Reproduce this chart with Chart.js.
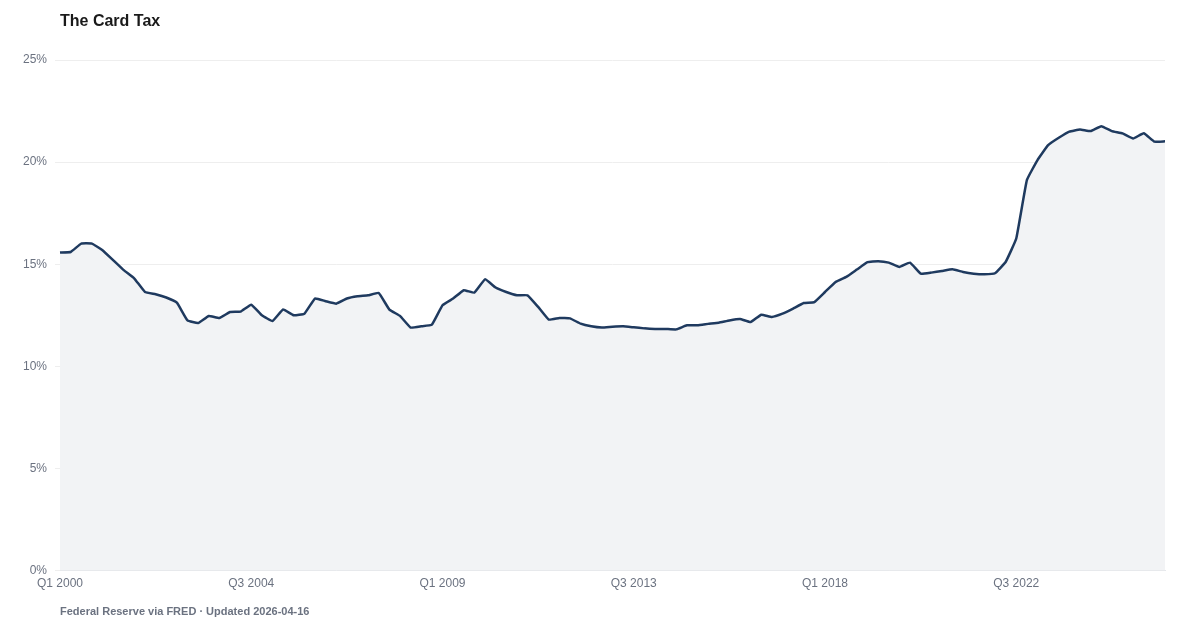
<!DOCTYPE html>
<html>
<head>
<meta charset="utf-8">
<script src="https://cdn.jsdelivr.net/npm/chart.js@4"></script>
<style>
  body { margin: 0; background: #fff; font-family: "Liberation Sans", Arial, sans-serif; }
  #wrap { position: relative; width: 1200px; height: 630px; }
  #title { position: absolute; left: 60px; top: 12px; font-size: 16px; font-weight: bold; color: #1a1a1a; }
  #note { position: absolute; left: 60px; top: 605px; font-size: 11px; font-weight: bold; color: #6b7280; }
  canvas { position: absolute; left: 0; top: 0; }
</style>
</head>
<body>
<div id="wrap">
  <canvas id="cardChart" width="1200" height="630"></canvas>
  <div id="title">The Card Tax</div>
  <div id="note">Federal Reserve via FRED · Updated 2026-04-16</div>
</div>
<script>
// Quarter labels, Q1 2000 .. Q1 2026
const years = [];
for (let y = 2000; y <= 2026; y++) years.push(y);
const quarters = [];
years.forEach(y => {
    for (let q = 1; q <= 4; q++) {
        if (y === 2026 && q > 1) break;
        quarters.push('Q' + q + ' ' + y);
    }
});

// Credit card interest rate (%)
const rates = [
    15.57, 15.60, 16.01, 16.01, 15.69, 15.20, 14.71, 14.30, 13.64, 13.53,
    13.37, 13.12, 12.25, 12.12, 12.47, 12.37, 12.66, 12.68, 13.02, 12.50,
    12.22, 12.78, 12.50, 12.58, 13.32, 13.19, 13.07, 13.32, 13.43, 13.48,
    13.59, 12.78, 12.47, 11.90, 11.96, 12.04, 12.99, 13.32, 13.73, 13.61,
    14.26, 13.86, 13.64, 13.48, 13.48, 12.91, 12.29, 12.37, 12.35, 12.09,
    11.96, 11.90, 11.94, 11.96, 11.91, 11.86, 11.83, 11.83, 11.81, 12.01,
    12.01, 12.08, 12.14, 12.25, 12.32, 12.17, 12.53, 12.42, 12.58, 12.83,
    13.10, 13.15, 13.64, 14.13, 14.38, 14.74, 15.10, 15.15, 15.08, 14.87,
    15.08, 14.54, 14.59, 14.67, 14.75, 14.62, 14.54, 14.51, 14.56, 15.11,
    16.26, 19.12, 20.10, 20.83, 21.19, 21.49, 21.60, 21.52, 21.76, 21.52,
    21.41, 21.16, 21.41, 21.00, 21.02
];

const yTicks = [0, 5, 10, 15, 20, 25];
const tickEvery = 18;

new Chart(document.getElementById('cardChart'), {
    type: 'line',
    data: {
        labels: quarters,
        datasets: [{
            data: rates,
            borderColor: '#1f3a5f',
            borderWidth: 2.5,
            backgroundColor: '#f2f3f5',
            fill: 'origin',
            tension: 0.1,
            pointRadius: 0
        }]
    },
    options: {
        responsive: false,
        animation: false,
        layout: { padding: { top: 60, right: 35, bottom: 33, left: 0 } },
        plugins: { legend: { display: false }, tooltip: { enabled: false } },
        scales: {
            x: {
                grid: { display: false, drawTicks: false },
                border: { color: '#e5e7eb' },
                ticks: {
                    autoSkip: false,
                    maxRotation: 0,
                    padding: 6,
                    color: '#6b7280',
                    font: { family: '"Liberation Sans", Arial, sans-serif', size: 12 },
                    callback: (v, i) => i % tickEvery === 0 ? quarters[i] : null
                }
            },
            y: {
                min: yTicks[0],
                max: yTicks[yTicks.length - 1],
                afterFit: scale => { scale.width = 60; },
                afterBuildTicks: scale => { scale.ticks = yTicks.map(v => ({ value: v })); },
                grid: { color: '#eeeeee', tickLength: 5 },
                border: { display: false },
                ticks: {
                    padding: 8,
                    color: '#6b7280',
                    font: { family: '"Liberation Sans", Arial, sans-serif', size: 12 },
                    callback: v => v + '%'
                }
            }
        }
    }
});
</script>
</body>
</html>
